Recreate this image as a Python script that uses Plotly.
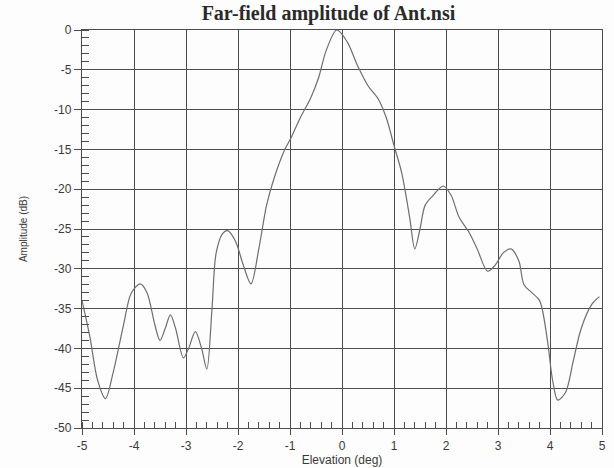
import plotly.graph_objects as go

# Far-field amplitude pattern (elevation cut)
elevation_deg = [
    -5.0, -4.85, -4.7, -4.55, -4.4, -4.2, -4.05, -3.88, -3.75, -3.6,
    -3.5, -3.4, -3.3, -3.2, -3.05, -2.95, -2.82, -2.7, -2.6, -2.5,
    -2.42, -2.3, -2.2, -2.05, -1.9, -1.75, -1.6, -1.45, -1.3, -1.1,
    -1.0, -0.8, -0.6, -0.45, -0.3, -0.1, 0.1, 0.3, 0.5, 0.7,
    0.85, 1.0, 1.15, 1.3, 1.4, 1.5, 1.6, 1.75, 1.95, 2.1,
    2.25, 2.45, 2.6, 2.8, 2.95, 3.1, 3.25, 3.4, 3.5, 3.65,
    3.8, 3.95, 4.05, 4.15, 4.3, 4.45, 4.6, 4.8, 4.95,
]
amplitude_db = [
    -34.0, -38.5, -44.0, -46.3, -43.0, -37.0, -33.0, -31.9, -33.0, -37.0,
    -39.0, -37.5, -35.8, -37.5, -41.2, -40.0, -37.9, -40.0, -42.6, -35.0,
    -28.0, -25.6, -25.2, -26.5, -29.5, -31.9, -27.5, -22.0, -18.5, -15.0,
    -13.8, -11.0, -8.5, -6.0, -2.5, 0.0, -1.5, -4.5, -7.0, -8.7,
    -11.0, -14.5, -18.0, -23.5, -27.5, -25.0, -22.0, -20.8, -19.6, -20.8,
    -23.5, -25.5, -27.5, -30.3, -29.5, -28.0, -27.5, -29.0, -32.0, -33.0,
    -34.0, -39.0, -44.0, -46.5, -45.5, -41.5, -37.5, -34.5, -33.5,
]

x_ticks = [-5, -4, -3, -2, -1, 0, 1, 2, 3, 4, 5]
x_tick_text = ["-5", "-4", "-3", "-2", "-1", "0", "1", "2", "3", "4", "5"]
y_ticks = [0, -5, -10, -15, -20, -25, -30, -35, -40, -45, -50]
y_tick_text = ["0", "-5", "-10", "-15", "-20", "-25", "-30", "-35", "-40", "-45", "-50"]

grid_color = "#4d4d4d"
text_color = "#3a3a3a"

fig = go.Figure()
fig.add_trace(go.Scatter(
    x=elevation_deg,
    y=amplitude_db,
    mode="lines",
    line=dict(color="#6e6e6e", width=1.2, shape="spline", smoothing=0.9),
    showlegend=False,
))

fig.update_layout(
    width=614,
    height=468,
    margin=dict(l=82, r=12, t=30, b=40, autoexpand=False),
    paper_bgcolor="#fdfdfd",
    plot_bgcolor="#fdfdfd",
    title=dict(
        text="<b>Far-field amplitude of Ant.nsi</b>",
        x=0.535,
        xanchor="center",
        y=0.972,
        yanchor="middle",
        font=dict(family="Liberation Serif", size=20, color="#2a2a2a"),
    ),
    font=dict(family="Liberation Sans", size=11, color=text_color),
)

fig.update_xaxes(
    range=[-5, 5],
    tickvals=x_ticks,
    ticktext=x_tick_text,
    tickfont=dict(size=12, color=text_color),
    automargin=False,
    showgrid=True,
    gridcolor=grid_color,
    gridwidth=1.4,
    zeroline=False,
    showline=True,
    linecolor=grid_color,
    linewidth=1.4,
    mirror=True,
    ticks="outside",
    ticklen=6,
    tickcolor=grid_color,
    tickwidth=1.4,
    minor=dict(dtick=0.2, ticks="inside", ticklen=6, tickcolor=grid_color,
               tickwidth=1, showgrid=False),
    title=dict(text="Elevation (deg)", standoff=0,
               font=dict(size=12, color=text_color)),
)

fig.update_yaxes(
    range=[-50, 0],
    tickvals=y_ticks,
    ticktext=y_tick_text,
    tickfont=dict(size=12, color=text_color),
    automargin=False,
    showgrid=True,
    gridcolor=grid_color,
    gridwidth=1.4,
    zeroline=False,
    showline=True,
    linecolor=grid_color,
    linewidth=1.4,
    mirror=True,
    ticks="outside",
    ticklen=7,
    tickcolor=grid_color,
    tickwidth=1.4,
    minor=dict(dtick=1, ticks="inside", ticklen=7, tickcolor=grid_color,
               tickwidth=1, showgrid=False),
    title=dict(text="Amplitude (dB)", standoff=24,
               font=dict(size=10, color=text_color)),
)

fig.write_html("out.html")
